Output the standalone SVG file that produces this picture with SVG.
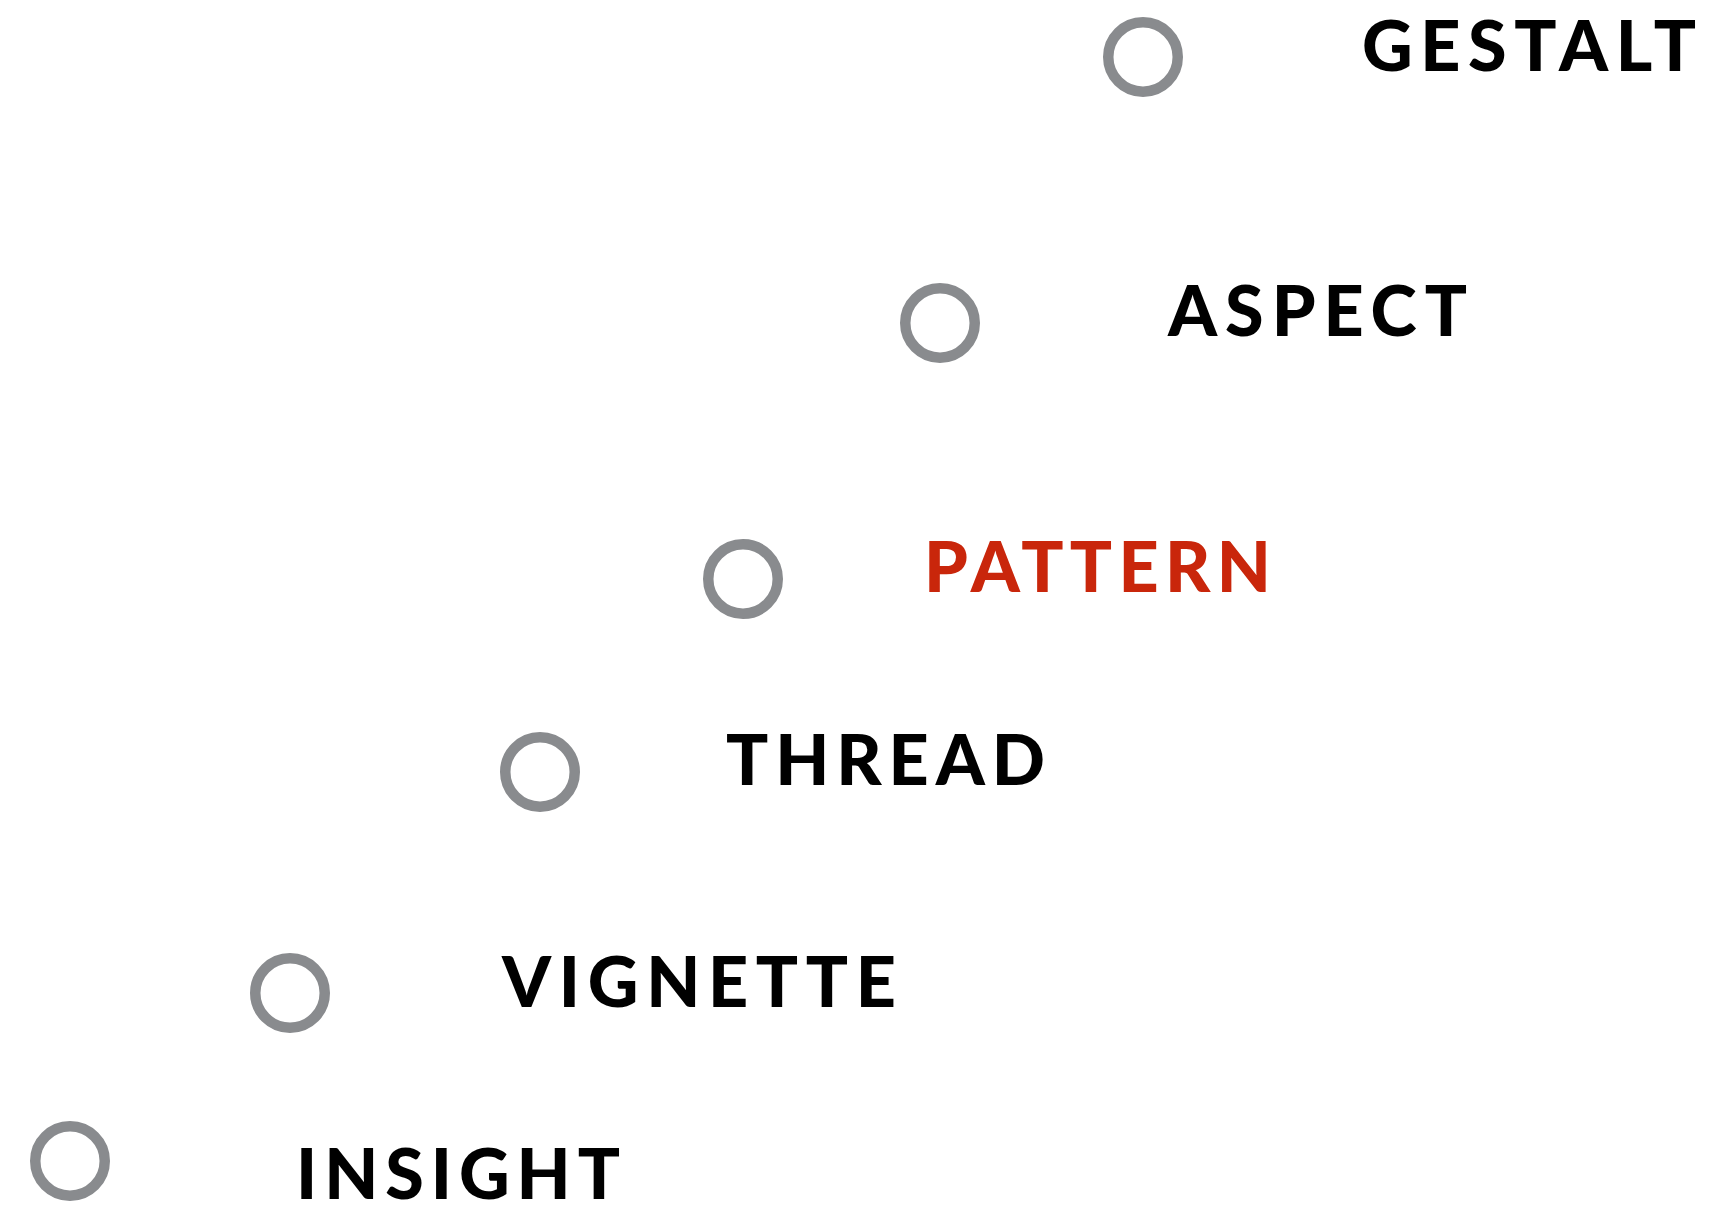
<svg xmlns="http://www.w3.org/2000/svg" width="1717" height="1216" viewBox="0 0 1717 1216">
<style>
.ring{fill:none;stroke:#898b8e;stroke-width:10.5}
.lbl{font-family:Lato,"Liberation Sans",sans-serif;font-weight:900;font-size:70px;fill:#000}
.hi{fill:#c9260b}
</style>
<rect width="1717" height="1216" fill="#fff"/>
<g id="node-gestalt"><circle class="ring" cx="1143" cy="57" r="34.75"/><text class="lbl" x="1362" y="71" textLength="334" lengthAdjust="spacing">GESTALT</text></g>
<g id="node-aspect"><circle class="ring" cx="940" cy="323" r="34.75"/><text class="lbl" x="1168" y="336" textLength="299" lengthAdjust="spacing">ASPECT</text></g>
<g id="node-pattern"><circle class="ring" cx="743" cy="579" r="34.75"/><text class="lbl hi" x="924" y="592" textLength="347" lengthAdjust="spacing">PATTERN</text></g>
<g id="node-thread"><circle class="ring" cx="540" cy="772" r="34.75"/><text class="lbl" x="726" y="785" textLength="319" lengthAdjust="spacing">THREAD</text></g>
<g id="node-vignette"><circle class="ring" cx="290" cy="993" r="34.75"/><text class="lbl" x="502" y="1007" textLength="394" lengthAdjust="spacing">VIGNETTE</text></g>
<g id="node-insight"><circle class="ring" cx="70" cy="1161" r="34.75"/><text class="lbl" x="296" y="1199" textLength="324" lengthAdjust="spacing">INSIGHT</text></g>
</svg>
